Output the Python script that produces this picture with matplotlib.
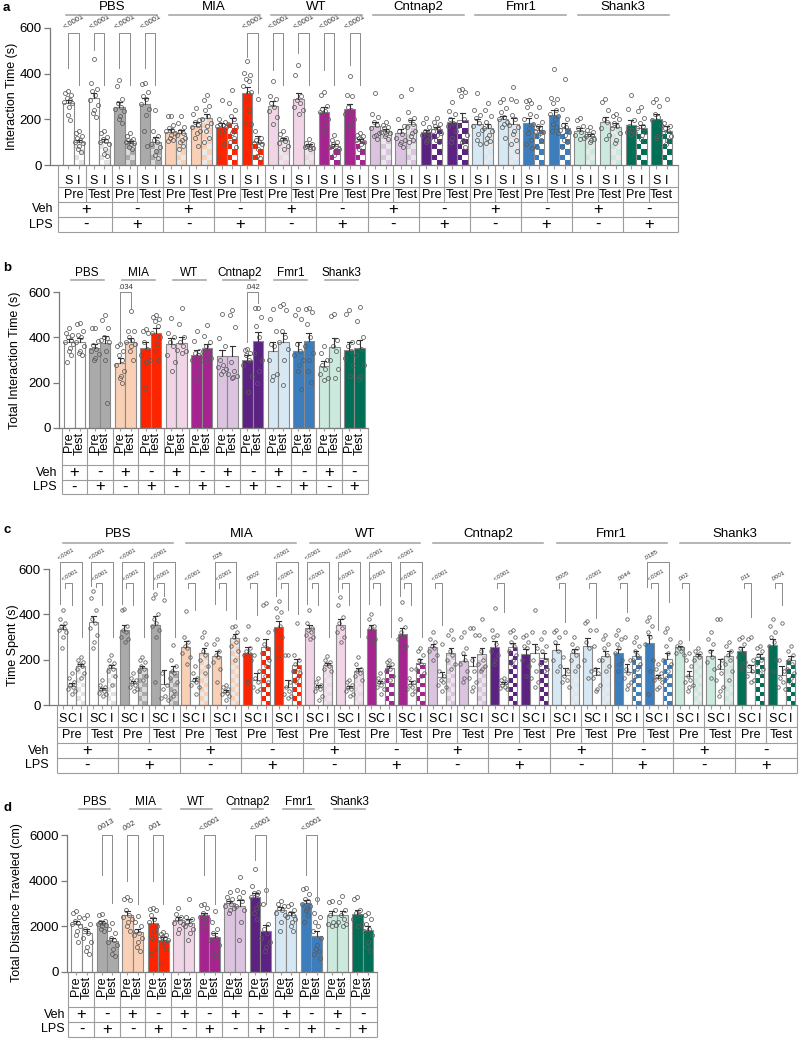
import numpy as np
import matplotlib
matplotlib.use('Agg')
import matplotlib.pyplot as plt
from matplotlib.patches import Rectangle
from matplotlib.lines import Line2D

plt.rcParams['font.family'] = ['Liberation Sans', 'DejaVu Sans']

# ---------------- data ----------------
genotypes = ['PBS', 'MIA', 'WT', 'Cntnap2', 'Fmr1', 'Shank3']
veh_signs = ['+', '-'] * 6
lps_signs = ['-', '+'] * 6
phases = ['Pre', 'Test']

# panel a : interaction time, S and I, 24 pairs (condition x phase)
a_S_mean = [271, 293, 256, 266, 146, 171, 165, 315, 259, 290, 234, 244,
            171, 139, 143, 189, 180, 200, 183, 218, 149, 187, 176, 203]
a_I_mean = [102, 102, 98, 102, 139, 205, 183, 102, 110, 85, 83, 107,
            151, 178, 157, 195, 161, 180, 154, 161, 127, 168, 161, 151]
a_S_dots = [
    [322, 315, 307, 293, 285, 278, 271, 256, 219, 195],
    [465, 358, 332, 325, 307, 285, 263, 241, 227, 210],
    [372, 348, 290, 270, 255, 245, 235, 215, 200, 185],
    [360, 355, 320, 300, 290, 265, 245, 220, 150, 85],
    [215, 215, 175, 160, 155, 150, 140, 130, 120, 110, 105],
    [250, 225, 195, 190, 175, 165, 150, 140, 120, 85],
    [285, 200, 190, 180, 175, 170, 165, 150, 130, 90, 35],
    [455, 405, 395, 375, 370, 345, 320, 315, 290, 240, 185, 180],
    [370, 300, 290, 270, 255, 235, 210, 180],
    [440, 395, 300, 285, 270, 255, 240, 225],
    [320, 305, 260, 245, 235, 230, 200, 170, 145],
    [390, 305, 300, 255, 240, 225, 200, 175, 160],
    [315, 225, 210, 190, 175, 160, 140, 130, 125, 115],
    [300, 200, 170, 150, 135, 120, 110, 100, 90, 80],
    [205, 185, 165, 150, 140, 130, 120, 110, 100],
    [275, 235, 225, 200, 185, 170, 150, 120, 100],
    [315, 240, 220, 205, 185, 170, 155, 135, 110, 90],
    [290, 275, 250, 230, 210, 200, 190, 180, 165, 120],
    [285, 280, 270, 255, 225, 200, 180, 160, 140, 110, 90, 75],
    [420, 295, 290, 270, 240, 225, 215, 200, 180, 165, 150, 140],
    [205, 195, 170, 160, 145, 130, 120, 115],
    [290, 275, 240, 200, 190, 160, 130, 115],
    [305, 245, 195, 170, 155, 145, 140, 135],
    [290, 275, 260, 225, 210, 195, 175, 125, 120],
]
a_I_dots = [
    [150, 140, 128, 120, 110, 100, 95, 85, 70, 55],
    [148, 140, 122, 112, 105, 100, 90, 72, 50, 40],
    [140, 125, 115, 110, 105, 100, 95, 90, 80, 70],
    [240, 150, 125, 110, 100, 90, 80, 60, 45, 30],
    [215, 185, 165, 150, 140, 130, 120, 110, 100, 85, 70],
    [305, 285, 260, 240, 215, 200, 185, 170, 150, 120, 100],
    [330, 270, 240, 215, 200, 180, 165, 150, 140, 120, 100, 80],
    [290, 150, 120, 110, 100, 95, 90, 70, 40, 30],
    [150, 135, 120, 115, 105, 95, 85, 70],
    [115, 95, 90, 85, 80, 78, 75, 70],
    [130, 110, 100, 90, 85, 80, 70, 60, 45],
    [140, 130, 125, 120, 115, 110, 100, 90, 70, 60],
    [190, 175, 165, 160, 150, 145, 140, 135, 125, 115],
    [335, 230, 205, 195, 180, 165, 150, 140, 125, 110, 100],
    [205, 190, 180, 170, 160, 150, 140, 130, 110, 100],
    [335, 330, 320, 300, 200, 170, 130, 110, 100, 80],
    [270, 240, 215, 190, 170, 160, 150, 130, 120, 105, 95],
    [340, 290, 280, 220, 200, 175, 165, 150, 135, 110, 90, 60],
    [255, 215, 190, 170, 160, 150, 145, 140, 130, 110, 80],
    [375, 245, 200, 175, 165, 155, 145, 130, 110, 100, 80],
    [165, 155, 145, 135, 130, 125, 115, 110, 100],
    [225, 215, 200, 185, 170, 160, 140, 110, 95],
    [255, 235, 205, 185, 170, 160, 145, 130, 115],
    [290, 185, 170, 160, 150, 140, 125, 110, 90],
]

# panel b : total interaction time, Pre and Test per condition
b_pre_mean = [380, 354, 288, 351, 369, 322, 316, 300, 341, 341, 275, 342]
b_test_mean = [380, 373, 378, 420, 375, 351, 318, 383, 380, 383, 359, 354]
b_pre_dots = [
    [440, 420, 410, 400, 390, 380, 370, 355, 340, 320, 290],
    [440, 440, 385, 365, 350, 340, 325, 310, 300],
    [370, 360, 340, 320, 300, 280, 250, 230, 220, 200],
    [435, 430, 420, 380, 350, 320, 300, 290, 175],
    [485, 420, 400, 380, 360, 320, 290, 250],
    [430, 385, 340, 330, 320, 300, 300, 260, 215],
    [505, 395, 360, 300, 280, 270, 260, 250, 240],
    [350, 345, 330, 320, 300, 280, 230, 160],
    [525, 480, 430, 370, 360, 300, 240, 230, 210],
    [525, 500, 480, 370, 340, 320, 300, 280, 250, 170],
    [360, 330, 300, 280, 260, 240, 220, 210],
    [520, 505, 380, 360, 340, 310, 280, 230],
]
b_test_dots = [
    [465, 460, 430, 410, 400, 380, 360, 340, 330, 320],
    [500, 475, 440, 400, 395, 390, 380, 340, 300, 110],
    [515, 430, 430, 400, 390, 380, 370, 360, 340, 300],
    [500, 490, 480, 470, 450, 420, 400, 370, 340, 300],
    [530, 460, 400, 380, 360, 345, 340, 330],
    [455, 405, 380, 360, 340, 320, 310, 300],
    [520, 500, 445, 290, 250, 240, 230, 225, 220],
    [530, 530, 490, 450, 400, 330, 300, 250, 200],
    [545, 540, 520, 430, 400, 380, 350, 300, 190],
    [530, 525, 510, 460, 400, 360, 330, 300, 250, 205],
    [505, 495, 390, 360, 340, 300, 260, 220],
    [535, 470, 400, 380, 350, 320, 280, 230, 215],
]

# panel c : time spent, S / C / I, 24 triplets
c_S_mean = [335, 364, 332, 354, 255, 217, 229, 343, 339, 354, 336, 314,
            254, 196, 258, 226, 243, 261, 228, 273, 254, 218, 239, 265]
c_C_mean = [86, 66, 96, 93, 108, 59, 111, 81, 78, 74, 96, 93,
            122, 172, 93, 229, 133, 133, 147, 121, 130, 159, 147, 133]
c_I_mean = [170, 162, 162, 150, 228, 295, 255, 177, 177, 150, 162, 187,
            231, 226, 254, 209, 228, 217, 218, 203, 217, 217, 211, 199]
c_S_dots = [
    [420, 380, 360, 350, 340, 330, 320, 300, 250],
    [505, 470, 420, 380, 360, 340, 310, 280, 250],
    [425, 420, 350, 330, 320, 300, 290, 280],
    [490, 470, 400, 380, 360, 350, 330, 300, 100],
    [415, 300, 280, 260, 250, 230, 210, 180],
    [290, 270, 240, 220, 210, 190, 160, 100],
    [350, 290, 250, 240, 230, 220, 200, 100, 100],
    [460, 430, 410, 390, 350, 330, 300, 250, 210],
    [420, 360, 340, 330, 320, 310, 300, 290],
    [475, 440, 390, 360, 340, 320, 300, 280],
    [400, 380, 350, 340, 330, 300, 290, 280],
    [455, 380, 345, 320, 300, 290, 260, 250],
    [320, 290, 280, 260, 250, 240, 220, 200],
    [320, 300, 250, 230, 200, 180, 150, 120, 100],
    [430, 330, 310, 300, 270, 240, 220, 200, 180],
    [310, 300, 280, 260, 250, 200, 170, 130],
    [330, 320, 300, 280, 240, 200, 170, 150],
    [370, 360, 330, 280, 250, 200, 150, 120],
    [330, 310, 290, 270, 250, 230, 200, 180, 150],
    [390, 370, 350, 320, 300, 270, 200, 150, 50],
    [280, 260, 250, 250, 240, 230, 220],
    [320, 290, 270, 240, 210, 190, 160, 120],
    [300, 290, 270, 250, 230, 210, 190, 180, 160],
    [380, 350, 320, 300, 280, 260, 200, 150],
]
c_C_dots = [
    [140, 120, 100, 90, 80, 70, 60, 50],
    [110, 90, 80, 70, 60, 55, 50, 40],
    [140, 120, 110, 95, 90, 80, 70, 60],
    [465, 140, 90, 70, 40, 30, 20],
    [170, 140, 120, 110, 100, 90, 80, 50],
    [90, 80, 70, 60, 55, 50, 40, 20],
    [290, 220, 150, 120, 100, 80, 70, 60],
    [220, 220, 100, 80, 60, 50, 40, 30],
    [120, 100, 90, 80, 70, 60, 40, 20],
    [110, 100, 90, 80, 70, 60, 50, 40],
    [140, 120, 110, 100, 90, 80, 70, 50],
    [160, 120, 100, 90, 80, 70, 60, 50],
    [270, 150, 130, 110, 100, 90, 80, 60],
    [340, 340, 310, 200, 150, 120, 100, 80, 60],
    [120, 110, 100, 90, 80, 75, 70],
    [420, 320, 250, 200, 150, 120, 100, 80],
    [320, 210, 150, 130, 110, 100, 80],
    [330, 260, 200, 160, 140, 120, 90, 70, 60],
    [380, 300, 200, 160, 140, 120, 100, 90, 70],
    [180, 160, 140, 130, 120, 110, 100, 80, 70],
    [230, 200, 170, 130, 110, 100, 90, 80, 60],
    [380, 380, 200, 170, 140, 110, 80, 60, 40],
    [300, 290, 200, 170, 150, 130, 110, 100],
    [360, 200, 150, 120, 100, 80, 70],
]
c_I_dots = [
    [210, 200, 190, 180, 170, 160, 140, 120],
    [220, 200, 185, 170, 160, 150, 130, 90],
    [210, 200, 190, 170, 160, 150, 130, 110],
    [265, 200, 170, 150, 140, 120, 100, 60, 40],
    [320, 300, 270, 240, 220, 200, 170, 140],
    [350, 345, 320, 300, 280, 260, 240, 200],
    [450, 440, 320, 270, 250, 230, 200, 170, 130, 100],
    [360, 220, 200, 180, 160, 150, 140, 120, 100],
    [215, 200, 190, 180, 170, 160, 150],
    [210, 180, 160, 150, 140, 130, 110],
    [200, 190, 180, 170, 160, 150, 130, 110],
    [250, 240, 220, 200, 180, 160, 140, 130],
    [330, 310, 290, 240, 220, 200, 180, 160],
    [380, 310, 290, 240, 200, 180, 170, 160, 150],
    [330, 320, 300, 280, 260, 240, 220, 200, 180],
    [320, 290, 260, 240, 200, 180, 160, 150],
    [300, 270, 250, 240, 220, 200, 170, 150],
    [310, 290, 270, 250, 220, 200, 170, 150],
    [300, 280, 260, 240, 220, 200, 180, 160, 130],
    [340, 320, 290, 260, 230, 200, 180, 150, 120],
    [250, 240, 230, 220, 210, 200],
    [280, 260, 240, 220, 200, 180, 150, 110],
    [260, 250, 240, 220, 200, 180, 160, 140],
    [260, 240, 220, 200, 180, 160, 140, 120, 100],
]

# panel d : total distance travelled (cm)
d_pre_mean = [2112, 2141, 2505, 2141, 2286, 2476, 3015, 3277, 2694, 3015, 2505, 2549]
d_test_mean = [1704, 1340, 1748, 1413, 2141, 1529, 2898, 1777, 2505, 1558, 2505, 1850]
d_pre_dots = [
    [2650, 2600, 2400, 2250, 2150, 2100, 2000, 1800, 1600, 1300],
    [2550, 2500, 2250, 2200, 2150, 2100, 2050, 2000, 1900, 1800],
    [3300, 3200, 3150, 2700, 2500, 2400, 2300, 2200, 2000, 1800],
    [2800, 2750, 2700, 2500, 2300, 2200, 2000, 1800, 1500, 1000, 800],
    [2800, 2550, 2400, 2300, 2200, 2150, 2100, 1900, 1700],
    [3000, 2950, 2800, 2600, 2500, 2400, 2300, 2200, 2000],
    [3500, 3300, 3200, 3100, 3000, 2900, 2800, 2700, 2600],
    [4500, 3750, 3500, 3450, 3400, 3300, 3000, 2800, 2600, 2300],
    [3100, 3000, 2900, 2800, 2700, 2600, 2500, 2200, 1800],
    [3700, 3650, 3400, 3200, 3100, 3000, 2900, 2800, 2700, 2500, 2200],
    [3100, 3050, 2700, 2500, 2200, 2100, 2050, 2000],
    [3300, 3200, 2700, 2600, 2500, 2300, 2100, 2000],
]
d_test_dots = [
    [2500, 2350, 2100, 1900, 1700, 1500, 1300, 1100, 900, 800],
    [2150, 1900, 1700, 1500, 1400, 1300, 1200, 1000, 800, 700],
    [2450, 2200, 2000, 1800, 1700, 1600, 1500, 1300, 1100, 900],
    [1750, 1650, 1600, 1550, 1500, 1450, 1400, 1300, 1200, 1000, 400],
    [3200, 2400, 2300, 2200, 2100, 2000, 1900, 1700, 1400],
    [2650, 2200, 1900, 1700, 1500, 1400, 1200, 1000, 800, 700],
    [4150, 3600, 3500, 3300, 3100, 2900, 2700, 2200, 1400],
    [3600, 3000, 2100, 1900, 1700, 1500, 1300, 1100, 900],
    [3000, 2900, 2700, 2600, 2500, 2400, 2300, 2200, 2000, 1800],
    [3200, 2600, 2400, 2200, 2000, 1800, 1500, 1200, 1000, 900, 800, 600],
    [3350, 3050, 2700, 2500, 2300, 2200, 2100, 2000],
    [2600, 2500, 2300, 2100, 1900, 1800, 1600, 1300, 1100, 900],
]

# significance annotations (group index, label, left-leg end, right-leg end)
a_sig = [(0, '<.0001', 424, 351), (1, '<.0001', 505, 351), (2, '<.0001', 424, 351),
         (3, '<.0001', 424, 351), (7, '<.0001', 475, 315), (8, '<.0001', 417, 351),
         (9, '<.0001', 490, 351), (10, '<.0001', 417, 351), (11, '<.0001', 439, 351)]
b_sig = [(2, '.034', 370, 530), (7, '.042', 380, 550)]
d_sig = [(1, '.0013', 4250, 3020), (2, '.002', 4000, 3000), (3, '.001', 4000, 3000),
         (5, '<.0001', 4250, 3000), (7, '<.0001', 4900, 3000), (9, '<.0001', 4250, 3000)]
# (triplet, bar1, bar2, level, left-leg end, right-leg end, label)
c_sig = [
    (0, 0, 2, 'out', 445, 300, '<.0001'), (0, 0, 1, 'in', 515, 440, '<.0001'),
    (1, 0, 2, 'out', 525, 300, '<.0001'), (1, 0, 1, 'in', 520, 440, '<.0001'),
    (2, 0, 2, 'out', 445, 300, '<.0001'), (2, 0, 1, 'in', 515, 440, '<.0001'),
    (3, 0, 2, 'out', 510, 300, '<.0001'), (3, 0, 1, 'in', 520, 480, '<.0001'),
    (4, 0, 1, 'in', 518, 420, '<.0001'),
    (5, 0, 2, 'out', 445, 380, '.028'), (5, 0, 1, 'in', 518, 420, '<.0001'),
    (6, 0, 1, 'in', 518, 397, '.0002'),
    (7, 0, 2, 'out', 480, 400, '<.0001'), (7, 0, 1, 'in', 518, 420, '<.0001'),
    (8, 0, 2, 'out', 445, 300, '<.0001'), (8, 0, 1, 'in', 515, 440, '<.0001'),
    (9, 0, 2, 'out', 500, 300, '<.0001'), (9, 0, 1, 'in', 518, 440, '<.0001'),
    (10, 0, 2, 'out', 445, 300, '<.0001'), (10, 0, 1, 'in', 515, 440, '<.0001'),
    (11, 0, 2, 'out', 480, 300, '<.0001'), (11, 0, 1, 'in', 518, 440, '<.0001'),
    (12, 0, 1, 'in', 518, 353, '<.0001'),
    (14, 0, 1, 'in', 518, 410, '<.0001'),
    (16, 0, 1, 'in', 518, 366, '.0005'),
    (17, 0, 1, 'in', 518, 384, '<.0001'),
    (18, 0, 1, 'in', 518, 410, '.0044'),
    (19, 0, 2, 'out', 520, 454, '.0185'), (19, 0, 1, 'in', 518, 331, '<.0001'),
    (20, 0, 1, 'in', 518, 287, '.002'),
    (22, 0, 1, 'in', 518, 390, '.011'),
    (23, 0, 1, 'in', 518, 441, '.0001'),
]

# colours per condition (genotype x Veh/LPS)
cond_colors = ['#ffffff', '#aaaaaa', '#f9cfb6', '#ff2400', '#f1d4e6', '#a5248f',
               '#dcc4e1', '#5b2282', '#d6e8f4', '#3b7dbd', '#cbeadd', '#006f56']
check_dark = ['#e2e2e2', '#aaaaaa', '#f9cfb6', '#ff2400', '#f1d4e6', '#a5248f',
              '#dcc4e1', '#5b2282', '#d6e8f4', '#3b7dbd', '#cbeadd', '#006f56']
check_light = ['#ffffff', '#dadada', '#e9e9e9', '#ffffff', '#e9e9e9', '#ffffff',
               '#e9e9e9', '#ffffff', '#e9e9e9', '#ffffff', '#e9e9e9', '#ffffff']

# ---------------- drawing helpers ----------------
W, H = 800, 1039
fig = plt.figure(figsize=(W / 100, H / 100), dpi=100)
EDGE = '#8a8a8a'
LINE = '#9c9c9c'
BRK = '#8a8a8a'
FS = 9          # general text
FS_SIGN = 12    # + / -


def ftext(x, y, s, **kw):
    fig.text(x / W, 1 - y / H, s, **kw)


def fline(x1, x2, y1, y2, **kw):
    fig.add_artist(Line2D([x1 / W, x2 / W], [1 - y1 / H, 1 - y2 / H],
                          transform=fig.transFigure, **kw))


def make_main(spine_x, right_x, top_y, bottom_y, c0, step, ymax, yticks):
    ax = fig.add_axes([spine_x / W, 1 - bottom_y / H, (right_x - spine_x) / W,
                       (bottom_y - top_y) / H])
    ax.set_xlim((spine_x - c0) / step, (right_x - c0) / step)
    ax.set_ylim(0, ymax)
    ax.set_yticks(yticks)
    ax.set_xticks([])
    for s in ['top', 'right']:
        ax.spines[s].set_visible(False)
    for s in ['left', 'bottom']:
        ax.spines[s].set_color('#7a7a7a')
        ax.spines[s].set_linewidth(0.9)
    ax.tick_params(axis='y', length=4, width=0.9, color='#7a7a7a', labelsize=FS + 0.5, pad=2)
    ax.patch.set_alpha(0)
    return ax


def make_table(spine_x, right_x, top_y, bottom_y, c0, step):
    t = fig.add_axes([spine_x / W, 1 - bottom_y / H, (right_x - spine_x) / W,
                      (bottom_y - top_y) / H])
    t.set_xlim((spine_x - c0) / step, (right_x - c0) / step)
    t.set_ylim(bottom_y, top_y)
    t.axis('off')
    return t


def tline(t, xs, ys):
    t.plot(xs, ys, color=LINE, lw=0.8, clip_on=False, solid_capstyle='butt')


def solid_bar(ax, xc, w, h, face):
    ax.add_patch(Rectangle((xc - w / 2, 0), w, h, facecolor=face, edgecolor=EDGE,
                           lw=0.8, zorder=2))


def checker_bar(ax, xc, w, h, dark, light, sq):
    x0 = xc - w / 2
    ax.add_patch(Rectangle((x0, 0), w, h, facecolor=light, edgecolor='none', zorder=2))
    r = 0
    y = 0.0
    while y < h - 1e-9:
        hh = min(sq, h - y)
        for c in range(2):
            if (r + c) % 2 == 1:
                ax.add_patch(Rectangle((x0 + c * w / 2, y), w / 2, hh, facecolor=dark,
                                       edgecolor='none', zorder=2.1))
        y += sq
        r += 1
    ax.add_patch(Rectangle((x0, 0), w, h, fill=False, edgecolor=EDGE, lw=0.8, zorder=2.2))


JIT = np.array([0.0, -0.55, 0.55, -0.28, 0.28, -0.8, 0.8, 0.12, -0.12, 0.42, -0.42, 0.68, -0.68])


def points(ax, xc, w, mean, vals, ms):
    vals = np.asarray(vals, float)
    xs = xc + JIT[np.arange(len(vals)) % len(JIT)] * w * 0.5
    ax.plot(xs, vals, ls='none', marker='o', ms=ms, mfc='none', mec='#5a5a5a',
            mew=0.55, zorder=4, clip_on=False)
    sem = vals.std(ddof=1) / np.sqrt(len(vals))
    ax.plot([xc, xc], [mean, mean + sem], color='#333333', lw=0.8, zorder=5)
    ax.plot([xc - w * 0.25, xc + w * 0.25], [mean + sem] * 2, color='#333333', lw=0.8, zorder=5)


def bracket(ax, x1, x2, top, yl, yr):
    ax.plot([x1, x1, x2, x2], [yl, top, top, yr], color=BRK, lw=0.7, clip_on=False,
            zorder=6)


def slanted(ax, x, y, s, fs):
    ax.text(x, y, s, rotation=30, rotation_mode='anchor', ha='left', va='bottom',
            fontsize=fs, color='#333333', clip_on=False)


def group_titles(c0, step, per, y_lab, y_line, half, fs):
    for k, g in enumerate(genotypes):
        cx = c0 + (per * k + (per - 1) / 2) * step
        ftext(cx, y_lab, g, ha='center', va='center', fontsize=fs)
        fline(cx - half, cx + half, y_line, y_line, color='#a0a0a0', lw=1.1)


# ---------------- panel a ----------------
c0, step = 73.5, 25.57
bw = 10.5 / step
ax = make_main(50, 678, 28, 165, c0, step, 600, [0, 200, 400, 600])
sq = 5.25 * 600 / 137
for g in range(24):
    cond = g // 2
    xs, xi = g - bw / 2, g + bw / 2
    solid_bar(ax, xs, bw, a_S_mean[g], cond_colors[cond])
    checker_bar(ax, xi, bw, a_I_mean[g], check_dark[cond], check_light[cond], sq)
    points(ax, xs, bw, a_S_mean[g], a_S_dots[g], 2.9)
    points(ax, xi, bw, a_I_mean[g], a_I_dots[g], 2.9)
for g, lab, yl, yr in a_sig:
    bracket(ax, g - bw / 2, g + bw / 2, 578, yl, yr)
    slanted(ax, g - bw / 2 - 0.1, 586, lab, 5.5)
ftext(12, 96.5, 'Interaction Time (s)', rotation=90, ha='center', va='center', fontsize=FS)
ftext(3, 8, 'a', fontsize=9.5, fontweight='bold', ha='left', va='center')
group_titles(c0, step, 4, 7, 15, 45.5, FS + 0.5)

t = make_table(50, 680, 165, 233, c0, step)
px = lambda p: (p - c0) / step
xl, xr = px(58), px(678)
for y in [187, 202, 217, 232]:
    tline(t, [xl, xr], [y, y])
for x in [xl, xr]:
    tline(t, [x, x], [165, 232])
for b in range(23):
    tline(t, [b + 0.5, b + 0.5], [165, 202 if b % 2 == 0 else 232])
for g in range(24):
    for off, letter in [(-bw / 2, 'S'), (bw / 2, 'I')]:
        tline(t, [g + off, g + off], [165, 169])
        t.text(g + off, 180.5, letter, ha='center', va='center', fontsize=FS)
    t.text(g, 195, phases[g % 2], ha='center', va='center', fontsize=FS)
for c in range(12):
    t.text(2 * c + 0.5, 209.5, veh_signs[c], ha='center', va='center', fontsize=FS_SIGN)
    t.text(2 * c + 0.5, 224.5, lps_signs[c], ha='center', va='center', fontsize=FS_SIGN)
t.text(px(53), 209.5, 'Veh', ha='right', va='center', fontsize=FS)
t.text(px(53), 224.5, 'LPS', ha='right', va='center', fontsize=FS)

# ---------------- panel b ----------------
c0, step = 74.5, 25.45
bw = 10.5 / step
ax = make_main(59, 368, 292, 428, c0, step, 600, [0, 200, 400, 600])
for c in range(12):
    xp, xt = c - bw / 2, c + bw / 2
    solid_bar(ax, xp, bw, b_pre_mean[c], cond_colors[c])
    solid_bar(ax, xt, bw, b_test_mean[c], cond_colors[c])
    points(ax, xp, bw, b_pre_mean[c], b_pre_dots[c], 2.9)
    points(ax, xt, bw, b_test_mean[c], b_test_dots[c], 2.9)
for c, lab, yl, yr in b_sig:
    bracket(ax, c - bw / 2, c + bw / 2, 600, yl, yr)
    ax.text(c, 606, lab, ha='center', va='bottom', fontsize=5.5, color='#333333')
ftext(15, 360, 'Total Interaction Time (s)', rotation=90, ha='center', va='center', fontsize=FS)
ftext(3, 268, 'b', fontsize=9.5, fontweight='bold', ha='left', va='center')
group_titles(c0, step, 2, 273, 279.5, 16.5, FS - 0.5)

t = make_table(59, 370, 428, 495, c0, step)
px = lambda p: (p - c0) / step
xl, xr = px(62), px(368)
for y in [465, 480, 494]:
    tline(t, [xl, xr], [y, y])
for x in [xl, xr]:
    tline(t, [x, x], [428, 494])
for b in range(11):
    tline(t, [b + 0.5, b + 0.5], [428, 494])
for c in range(12):
    for off, lab in [(-bw / 2, 'Pre'), (bw / 2, 'Test')]:
        tline(t, [c + off, c + off], [428, 431])
        t.text(c + off, 432, lab, rotation=90, ha='center', va='top', fontsize=FS)
    t.text(c, 472.5, veh_signs[c], ha='center', va='center', fontsize=FS_SIGN)
    t.text(c, 487, lps_signs[c], ha='center', va='center', fontsize=FS_SIGN)
t.text(px(57), 472.5, 'Veh', ha='right', va='center', fontsize=FS)
t.text(px(57), 487, 'LPS', ha='right', va='center', fontsize=FS)

# ---------------- panel c ----------------
c0, step = 71.5, 30.87
bw = 9.0 / step
ax = make_main(49, 797, 569, 705, c0, step, 600, [0, 200, 400, 600])
sq = 4.5 * 600 / 136
for g in range(24):
    cond = g // 2
    xs, xc, xi = g - bw, g, g + bw
    solid_bar(ax, xs, bw, c_S_mean[g], cond_colors[cond])
    solid_bar(ax, xc, bw, c_C_mean[g], '#ffffff')
    checker_bar(ax, xi, bw, c_I_mean[g], check_dark[cond], check_light[cond], sq)
    points(ax, xs, bw, c_S_mean[g], c_S_dots[g], 2.5)
    points(ax, xc, bw, c_C_mean[g], c_C_dots[g], 2.5)
    points(ax, xi, bw, c_I_mean[g], c_I_dots[g], 2.5)
for g, i1, i2, lvl, yl, yr, lab in c_sig:
    offs = [-bw, 0, bw]
    if lvl == 'out':
        x1 = g + offs[i1] - 0.07
        bracket(ax, x1, g + offs[i2] + 0.05, 631, yl, yr)
        slanted(ax, x1 - 0.03, 638, lab, 4.3)
    else:
        x1 = g + offs[i1] + 0.07
        bracket(ax, x1, g + offs[i2], 538, yl, yr)
        slanted(ax, x1 - 0.06, 545, lab, 4.3)
ftext(13, 645, 'Time Spent (s)', rotation=90, ha='center', va='center', fontsize=FS)
ftext(3, 530, 'c', fontsize=9.5, fontweight='bold', ha='left', va='center')
group_titles(c0, step, 4, 534, 543, 55, FS + 0.5)

t = make_table(49, 799, 705, 774, c0, step)
px = lambda p: (p - c0) / step
xl, xr = px(57), px(797)
for y in [727, 743, 758, 773]:
    tline(t, [xl, xr], [y, y])
for x in [xl, xr]:
    tline(t, [x, x], [705, 773])
for b in range(23):
    tline(t, [b + 0.5, b + 0.5], [705, 743 if b % 2 == 0 else 773])
for g in range(24):
    for off, letter in [(-bw, 'S'), (0, 'C'), (bw, 'I')]:
        tline(t, [g + off, g + off], [705, 709])
        t.text(g + off, 719.5, letter, ha='center', va='center', fontsize=FS)
    t.text(g, 735.5, phases[g % 2], ha='center', va='center', fontsize=FS)
for c in range(12):
    t.text(2 * c + 0.5, 750.5, veh_signs[c], ha='center', va='center', fontsize=FS_SIGN)
    t.text(2 * c + 0.5, 765.5, lps_signs[c], ha='center', va='center', fontsize=FS_SIGN)
t.text(px(49), 750.5, 'Veh', ha='right', va='center', fontsize=FS)
t.text(px(49), 765.5, 'LPS', ha='right', va='center', fontsize=FS)

# ---------------- panel d ----------------
c0, step = 81.5, 25.55
bw = 10.5 / step
ax = make_main(67, 377, 835, 972, c0, step, 6000, [0, 2000, 4000, 6000])
for c in range(12):
    xp, xt = c - bw / 2, c + bw / 2
    solid_bar(ax, xp, bw, d_pre_mean[c], cond_colors[c])
    solid_bar(ax, xt, bw, d_test_mean[c], cond_colors[c])
    points(ax, xp, bw, d_pre_mean[c], d_pre_dots[c], 2.9)
    points(ax, xt, bw, d_test_mean[c], d_test_dots[c], 2.9)
for c, lab, yl, yr in d_sig:
    bracket(ax, c - bw / 2, c + bw / 2, 6000, yl, yr)
    slanted(ax, c - bw / 2 - 0.1, 6080, lab, 5.5)
ftext(17, 903, 'Total Distance Traveled (cm)', rotation=90, ha='center', va='center', fontsize=FS)
ftext(3, 808, 'd', fontsize=9.5, fontweight='bold', ha='left', va='center')
group_titles(c0, step, 2, 802, 808.5, 15.5, FS - 0.5)

t = make_table(67, 379, 972, 1038, c0, step)
px = lambda p: (p - c0) / step
xl, xr = px(68), px(377)
for y in [1007, 1022, 1037]:
    tline(t, [xl, xr], [y, y])
for x in [xl, xr]:
    tline(t, [x, x], [972, 1037])
for b in range(11):
    tline(t, [b + 0.5, b + 0.5], [972, 1037])
for c in range(12):
    for off, lab in [(-bw / 2, 'Pre'), (bw / 2, 'Test')]:
        tline(t, [c + off, c + off], [972, 975])
        t.text(c + off, 976, lab, rotation=90, ha='center', va='top', fontsize=FS)
    t.text(c, 1014.5, veh_signs[c], ha='center', va='center', fontsize=FS_SIGN)
    t.text(c, 1029.5, lps_signs[c], ha='center', va='center', fontsize=FS_SIGN)
t.text(px(65), 1014.5, 'Veh', ha='right', va='center', fontsize=FS)
t.text(px(65), 1029.5, 'LPS', ha='right', va='center', fontsize=FS)

fig.savefig('out.png', dpi=100)
